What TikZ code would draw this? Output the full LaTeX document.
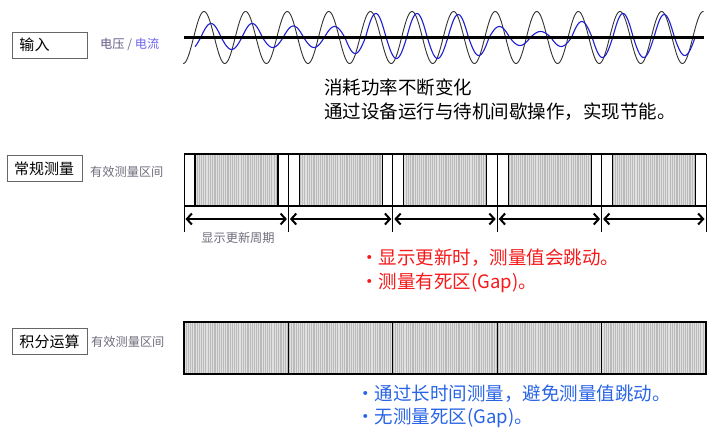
\documentclass[tikz,border=0pt]{standalone}
\usepackage{fontspec}
\setmainfont{Noto Sans CJK SC}
\usepackage{xcolor}
\usetikzlibrary{
  arrows.meta
}
\definecolor{notegray}{RGB}{112,108,124}
\definecolor{voltcol}{RGB}{100,90,130}
\definecolor{ampcol}{RGB}{110,100,240}
\definecolor{wireblue}{RGB}{30,30,210}
\definecolor{warnred}{RGB}{245,25,25}
\definecolor{goodblue}{RGB}{40,100,230}

\begin{document}
\begin{tikzpicture}[x=1pt, y=-1pt,
  labelbox/.style = {draw=black!60, line width=0.8pt, text width=61pt,
    inner xsep=7pt, minimum height=26pt, align=left,
    font=\fontsize{15}{17}\selectfont},
  note/.style = {inner sep=0pt, text=notegray,
    font=\fontsize{12.2}{14}\selectfont},
  msg/.style = {anchor=west, inner sep=0pt, align=left,
    font=\fontsize{18.5}{23.5}\selectfont},
  stripe/.style = {draw=white!88!black},
  bar/.style = {line width=1.1pt},
  span/.style = {{Straight Barb[length=5pt,width=11pt]}-{Straight Barb[length=5pt,width=11pt]},
    line width=2pt}]
  \fill[white] (0,0) rectangle (714,427);

  % input waveform
  \node[labelbox] (input) at (50,45) {输入};
  \node[note, anchor=west] (wlabel) at (100,44)
    {\textcolor{voltcol}{电压} \textcolor{notegray}{/} \textcolor{ampcol}{电流}};
  \draw[black!80, line width=0.9pt] plot[domain=183.2:703.6, samples=700]
    (\x,{37.5-26*sin(8.654*(\x-193.6))});
  \draw[wireblue, line width=1.1pt] plot[domain=195:200.7, samples=8]
    (\x,{37.5-12*sin(8.738*(\x-200.7))});
  \foreach \a [count=\k from 0] in {14,12,14,10,11.5,10,11,16,24,21,24,21,
                                   23,18,11,8,6,9,16,20,24,20,23,18} {
    \pgfmathsetmacro\xa{200.7+20.6*\k}
    \pgfmathsetmacro\xb{200.7+20.6*(\k+1)}
    \draw[wireblue, line width=1.1pt] plot[domain=\xa:\xb, samples=25]
      (\x,{37.5-\a*sin(8.738*(\x-200.7))});
  }
  \draw[line width=3pt] (184,37.5) -- (704,37.5);
  \node[msg] (power) at (324,99.5)
    {消耗功率不断变化\\通过设备运行与待机间歇操作，实现节能。};

  % normal measurement
  \node[labelbox] (normal) at (44.5,168.5) {常规测量};
  \node[note, anchor=west] (valid1) at (90,172) {有效测量区间};
  \foreach \i in {0,...,5} {
    \coordinate (b\i) at ({184+104.4*\i},154);
    \coordinate (t\i) at ({184+104.4*\i},219);
  }
  \begin{scope}
    \clip \foreach \i in {0,...,4} { ({195+104.4*\i},154) rectangle ({278+104.4*\i},206) };
    \fill[black!27] (184,154) rectangle (706,206);
    \foreach \s [count=\n] in {185,187.2,...,706} {
      \pgfmathsetmacro\lw{0.45+0.35*mod(\n,3)}
      \draw[stripe, line width=\lw pt] (\s,154) -- (\s,206);
    }
  \end{scope}
  \draw[bar] (b0) -- (b5) (184,206) -- (706,206);
  \foreach \i in {0,...,4}
    \draw[bar] ({195+104.4*\i},154) -- ++(0,52) ({278+104.4*\i},154) -- ++(0,52);
  \foreach \i in {0,...,5}
    \draw[line width=0.9pt] (b\i) -- ++(0,78);
  \foreach \i [evaluate=\i as \j using int(\i+1)] in {0,...,4}
    \draw[span] ([xshift=1.5pt]t\i) -- ([xshift=-1.5pt]t\j);
  \node[note] (period) at (238,238) {显示更新周期};
  \node[msg, text=warnred] (warn) at (360,271)
    {・显示更新时，测量值会跳动。\\・测量有死区(Gap)。};

  % integration
  \node[labelbox] (integ) at (50,341.5) {积分运算};
  \node[note, anchor=west] (valid2) at (91,342) {有效测量区间};
  \begin{scope}
    \clip (184,322) rectangle (706,374);
    \fill[black!27] (184,322) rectangle (706,374);
    \foreach \s [count=\n] in {185,187.2,...,706} {
      \pgfmathsetmacro\lw{0.45+0.35*mod(\n,3)}
      \draw[stripe, line width=\lw pt] (\s,322) -- (\s,374);
    }
  \end{scope}
  \draw[bar] (184,322) rectangle (706,374);
  \foreach \i in {1,...,4}
    \draw[bar] ({184+104.4*\i},322) -- ++(0,52);
  \node[msg, text=goodblue] (good) at (356,406.5)
    {·通过长时间测量，避免测量值跳动。\\·无测量死区(Gap)。};
\end{tikzpicture}
\end{document}
